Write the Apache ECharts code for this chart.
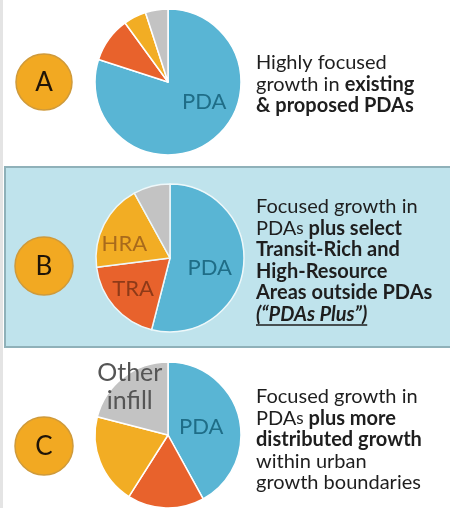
<!DOCTYPE html>
<html><head><meta charset="utf-8">
<script src="https://cdn.jsdelivr.net/npm/echarts@6/dist/echarts.min.js"></script>
<style>html,body{margin:0;padding:0;background:#fff}#c{width:450px;height:508px}</style>
</head><body><div id="c"></div>
<script>
// ---- data ----
const categories = ['PDA', 'TRA', 'HRA', 'Other infill'];
const scenarioNames = ['A', 'B', 'C'];
const valuesA = [80, 10, 5, 5];
const valuesB = [54, 19, 19, 8];
const valuesC = [42, 17, 20, 21];
const labelsA = ['PDA', '', '', ''];
const labelsB = ['PDA', 'TRA', 'HRA', ''];
const labelsC = ['PDA', '', '', 'Other\ninfill'];
const textA = ['{n|Highly focused}', '{n|growth in }{b|existing}', '{b|& proposed PDAs}'];
const textB = ['{n|Focused growth in}', '{n|PDA}{s|s}{b| plus select}', '{b|Transit-Rich and}', '{b|High-Resource}', '{b|Areas outside PDAs}', '{i|(\u201CPDAs Plus\u201D)}'];
const textC = ['{n|Focused growth in}', '{n|PDA}{s|s}{b| plus more}', '{b|distributed growth}', '{n|within urban}', '{n|growth boundaries}'];
const underlined = '(\u201CPDAs Plus\u201D)';

// ---- styling ----
const sliceColors = ['#59b5d4', '#e8622c', '#f2ad24', '#c3c3c3'];
const labelColors = ['#1f6d87', '#8e3a18', '#a86a1c', '#555555'];
const labelSizes = [22, 22, 22, 25];
const FONT = 'Lato';
const TXT = '#1e1e1e';
const LH = 21.5;
const rich = {
  n: { fontFamily: FONT, fontSize: 20, fontWeight: 'normal', color: TXT, lineHeight: LH },
  s: { fontFamily: FONT, fontSize: 17, fontWeight: 'normal', color: TXT, lineHeight: LH },
  b: { fontFamily: FONT, fontSize: 20, fontWeight: 'bold', color: TXT, lineHeight: LH },
  i: { fontFamily: FONT, fontSize: 20, fontWeight: 'bold', fontStyle: 'italic', color: TXT, lineHeight: LH }
};
const panels = [
  { values: valuesA, labels: labelsA, text: textA, center: [168, 82], r: 73, circle: [44, 82, 28], textTop: 52, labelShift: [[13, -12], [0, 0], [0, 0], [0, 0]], border: '#ffffff' },
  { values: valuesB, labels: labelsB, text: textB, center: [170, 258], r: 74, circle: [44, 266, 29], textTop: 196, labelShift: [[0, 5], [-7, 4], [-10, 4], [0, 0]], border: '#eef8fa' },
  { values: valuesC, labels: labelsC, text: textC, center: [168, 435], r: 73, circle: [44, 446, 29], textTop: 386, labelShift: [[-5, 2], [0, 0], [0, 0], [-14, -17]], border: '#ffffff' }
];

const series = panels.map((p, k) => ({
  type: 'pie',
  name: scenarioNames[k],
  center: p.center,
  radius: [0, p.r],
  startAngle: 90,
  clockwise: true,
  silent: true,
  animation: false,
  itemStyle: { borderColor: p.border, borderWidth: 1.5 },
  label: {
    show: true,
    position: 'inside',
    fontFamily: FONT,
    fontSize: 22,
    lineHeight: 26,
    formatter: (params) => p.labels[params.dataIndex],
  },
  labelLine: { show: false },
  labelLayout: (params) => ({ dx: p.labelShift[params.dataIndex][0], dy: p.labelShift[params.dataIndex][1] }),
  data: categories.map((c, i) => ({
    name: c,
    value: p.values[i],
    itemStyle: { color: sliceColors[i] },
    label: { color: labelColors[i], fontSize: labelSizes[i], lineHeight: labelSizes[i] + 3 }
  }))
}));

const titles = panels.map((p) => ({
  text: p.text.join('\n'),
  left: 256,
  top: p.textTop,
  padding: 0,
  textStyle: { rich: rich, fontFamily: FONT, fontSize: 20, fontWeight: 'normal', lineHeight: LH }
}));

// measure underlined text width
const mctx = document.createElement('canvas').getContext('2d');
mctx.font = 'italic bold 20px Lato';
const ulWidth = mctx.measureText(underlined).width;

const graphic = [
  { type: 'rect', shape: { x: 0, y: 0, width: 3, height: 508 }, style: { fill: '#e4e4e4' }, z: -10 },
  { type: 'rect', shape: { x: 5, y: 167, width: 448, height: 180 }, style: { fill: '#bfe3ec', stroke: '#8fb1b9', lineWidth: 2 }, z: -5 },
  { type: 'line', shape: { x1: 256, y1: 325, x2: 256 + ulWidth, y2: 325 }, style: { stroke: '#1e1e1e', lineWidth: 1.5 }, z: 10 }
];
panels.forEach((p, k) => {
  graphic.push({
    type: 'circle',
    shape: { cx: p.circle[0], cy: p.circle[1], r: p.circle[2] },
    style: { fill: '#f2a922', stroke: '#cf9a3a', lineWidth: 1.5 },
    z: 5
  });
  graphic.push({
    type: 'text',
    x: p.circle[0], y: p.circle[1] + 1,
    style: { text: scenarioNames[k], fill: '#1f1408', font: '26px Lato', align: 'center', verticalAlign: 'middle' },
    z: 6
  });
});

const chart = echarts.init(document.getElementById('c'), null, { renderer: 'canvas' });
chart.setOption({
  backgroundColor: '#ffffff',
  animation: false,
  title: titles,
  series: series,
  graphic: graphic
});
</script>
</body></html>
